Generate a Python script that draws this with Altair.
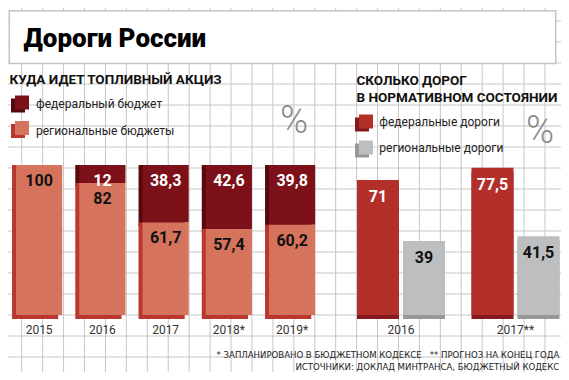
import altair as alt
import pandas as pd

# ---------------- data ----------------
title = "Дороги России"
left_title = "КУДА ИДЕТ ТОПЛИВНЫЙ АКЦИЗ"
right_title = ["СКОЛЬКО ДОРОГ", "В НОРМАТИВНОМ СОСТОЯНИИ"]

years_left = ["2015", "2016", "2017", "2018*", "2019*"]
federal_budget = [0, 12, 38.3, 42.6, 39.8]
regional_budget = [100, 82, 61.7, 57.4, 60.2]
left_series = ["федеральный бюджет", "региональные бюджеты"]

years_right = ["2016", "2017**"]
federal_roads = [71, 77.5]
regional_roads = [39, 41.5]
right_series = ["федеральные дороги", "региональные дороги"]

footnotes = [
    "* ЗАПЛАНИРОВАНО В БЮДЖЕТНОМ КОДЕКСЕ\u00a0\u00a0\u00a0** ПРОГНОЗ НА КОНЕЦ ГОДА",
    "ИСТОЧНИКИ: ДОКЛАД МИНТРАНСА, БЮДЖЕТНЫЙ КОДЕКС",
]

grid_cols = list(range(1, 27))
grid_rows = list(range(-2, 15))

# ---------------- styles ----------------
FED_L, FED_L_SIDE = "#7d1119", "#560a0f"
REG_L, REG_L_SIDE = "#d6735d", "#b9372e"
FED_R, FED_R_SIDE = "#b3302a", "#841a1d"
REG_R, REG_R_SIDE = "#bdbec0", "#97989a"
GRID = "#c6c6c6"
FONT = "Roboto"
NARROW = "Liberation Sans Narrow, DejaVu Sans Condensed, Roboto"


def fmt(v):
    return f"{v:g}".replace(".", ",")


# ---------------- tables ----------------
lrows = []
for y, f, r in zip(years_left, federal_budget, regional_budget):
    if f > 0:
        lrows.append(dict(year=y, series=left_series[0], value=f, lo=100 - f, hi=100, label=fmt(f)))
    lrows.append(dict(year=y, series=left_series[1], value=r, lo=0, hi=100 - f, label=fmt(r)))
ldf = pd.DataFrame(lrows)

rrows = []
for y, f, r in zip(years_right, federal_roads, regional_roads):
    rrows.append(dict(year=y, series=right_series[0], value=f, label=fmt(f)))
    rrows.append(dict(year=y, series=right_series[1], value=r, label=fmt(r)))
rdf = pd.DataFrame(rrows)

# ---------------- scales ----------------
XL = alt.Scale(domain=years_left, range=[-0.5, 315.75], paddingInner=0.27, paddingOuter=0.135)
YL = alt.Scale(domain=[0, 100], range=[307, 157])
XR = alt.Scale(domain=years_right, range=[335.75, 564.75], paddingInner=0.2314, paddingOuter=0.1157)
XOR = alt.Scale(domain=right_series, paddingInner=0.087, paddingOuter=0)
XOR_TXT = alt.Scale(type="point", domain=right_series, padding=0.4565)
YR = alt.Scale(domain=[0, 100], range=[307, 117])

# ---------------- background grid ----------------
vgrid = alt.Chart(pd.DataFrame({"k": grid_cols})).mark_rule(color=GRID, strokeWidth=1).encode(
    x=alt.X("k:Q", scale=alt.Scale(domain=[0, 1], range=[-7.2, 13.73]), axis=None)
)
hgrid = alt.Chart(pd.DataFrame({"k": grid_rows})).mark_rule(color=GRID, strokeWidth=1).encode(
    y=alt.Y("k:Q", scale=alt.Scale(domain=[0, 1], range=[307, 286]), axis=None)
)

one = pd.DataFrame({"t": [title]})
box = alt.Chart(one).mark_rect(fill="white", stroke="#c4c4c4", strokeWidth=1.5).encode(
    x=alt.value(1.3), x2=alt.value(547.7), y=alt.value(2.7), y2=alt.value(55.5)
)
head = alt.Chart(one).mark_text(
    font=FONT, fontSize=26, fontWeight=900, align="left", baseline="alphabetic", color="#000"
).encode(x=alt.value(15.5), y=alt.value(39), text="t:N")

lt = alt.Chart(pd.DataFrame({"t": [left_title]})).mark_text(
    font=FONT, fontSize=13.5, fontWeight="bold", align="left", baseline="alphabetic", color="#111"
).encode(x=alt.value(1.5), y=alt.value(76), text="t:N")
rt = alt.Chart(pd.DataFrame({"t": right_title, "i": [0, 1]})).mark_text(
    font=FONT, fontSize=13.5, fontWeight="bold", align="left", baseline="alphabetic", color="#111"
).encode(
    x=alt.value(348.5),
    y=alt.Y("i:O", scale=alt.Scale(domain=[0, 1], range=[77, 93.7], padding=0), axis=None),
    text="t:N",
)

pct = alt.Chart(pd.DataFrame({"t": ["%", "%"], "i": [0, 1]})).mark_text(
    font=FONT, fontSize=38, fontWeight=300, align="center", baseline="middle", color="#8a8a8a"
).encode(
    x=alt.X("i:O", scale=alt.Scale(domain=[0, 1], range=[286, 532], padding=0), axis=None),
    y=alt.Y("i:O", scale=alt.Scale(domain=[0, 1], range=[113.5, 123.7], padding=0), axis=None),
    text="t:N",
)

# ---------------- legends ----------------
lleg = pd.DataFrame({"series": left_series})
LGY = alt.Scale(domain=left_series, range=[94.5, 120], padding=0)
lleg_side = alt.Chart(lleg).mark_square(size=196, opacity=1, xOffset=-4, yOffset=3).encode(
    x=alt.value(14), y=alt.Y("series:N", scale=LGY, axis=None),
    color=alt.Color("series:N", scale=alt.Scale(domain=left_series, range=[FED_L_SIDE, REG_L_SIDE]), legend=None),
)
lleg_front = alt.Chart(lleg).mark_square(size=196, opacity=1).encode(
    x=alt.value(14), y=alt.Y("series:N", scale=LGY, axis=None),
    color=alt.Color("series:N", scale=alt.Scale(domain=left_series, range=[FED_L, REG_L]), legend=None),
)
lleg_text = alt.Chart(lleg).mark_text(
    font=FONT, fontSize=12, align="left", baseline="middle", color="#222"
).encode(
    x=alt.value(28),
    y=alt.Y("series:N", scale=alt.Scale(domain=left_series, range=[96.3, 123], padding=0), axis=None),
    text="series:N",
)

rleg = pd.DataFrame({"series": right_series})
RGY = alt.Scale(domain=right_series, range=[113.5, 139.5], padding=0)
rleg_side = alt.Chart(rleg).mark_square(size=196, opacity=1, xOffset=-4, yOffset=3).encode(
    x=alt.value(358), y=alt.Y("series:N", scale=RGY, axis=None),
    color=alt.Color("series:N", scale=alt.Scale(domain=right_series, range=[FED_R_SIDE, REG_R_SIDE]), legend=None),
)
rleg_front = alt.Chart(rleg).mark_square(size=196, opacity=1).encode(
    x=alt.value(358), y=alt.Y("series:N", scale=RGY, axis=None),
    color=alt.Color("series:N", scale=alt.Scale(domain=right_series, range=[FED_R, REG_R]), legend=None),
)
rleg_text = alt.Chart(rleg).mark_text(
    font=FONT, fontSize=12, align="left", baseline="middle", color="#222"
).encode(
    x=alt.value(371.3),
    y=alt.Y("series:N", scale=alt.Scale(domain=right_series, range=[113.7, 140.3], padding=0), axis=None),
    text="series:N",
)

# ---------------- left bars ----------------
l_side = alt.Chart(ldf).mark_bar(xOffset=-4, yOffset=4).encode(
    x=alt.X("year:N", scale=XL, axis=None),
    y=alt.Y("lo:Q", scale=YL, axis=None), y2="hi:Q",
    color=alt.Color("series:N", scale=alt.Scale(domain=left_series, range=[FED_L_SIDE, REG_L_SIDE]), legend=None),
)
l_front = alt.Chart(ldf).mark_bar().encode(
    x=alt.X("year:N", scale=XL, axis=None),
    y=alt.Y("lo:Q", scale=YL, axis=None), y2="hi:Q",
    color=alt.Color("series:N", scale=alt.Scale(domain=left_series, range=[FED_L, REG_L]), legend=None),
)
l_text = alt.Chart(ldf).mark_text(
    font=FONT, fontSize=16, fontWeight="bold", baseline="middle", yOffset=16
).encode(
    x=alt.X("year:N", scale=XL, axis=None),
    y=alt.Y("hi:Q", scale=YL, axis=None),
    text="label:N",
    color=alt.Color("series:N", scale=alt.Scale(domain=left_series, range=["#ffffff", "#111111"]), legend=None),
)
l_years = alt.Chart(pd.DataFrame({"year": years_left})).mark_text(
    font=FONT, fontSize=12, baseline="middle", color="#333"
).encode(x=alt.X("year:N", scale=XL, axis=None), y=alt.value(322), text="year:N")

# ---------------- right bars ----------------
r_side = alt.Chart(rdf).mark_bar(xOffset=-4, yOffset=4).encode(
    x=alt.X("year:N", scale=XR, axis=None),
    xOffset=alt.XOffset("series:N", scale=XOR),
    y=alt.Y("value:Q", scale=YR, axis=None),
    color=alt.Color("series:N", scale=alt.Scale(domain=right_series, range=[FED_R_SIDE, REG_R_SIDE]), legend=None),
)
r_front = alt.Chart(rdf).mark_bar().encode(
    x=alt.X("year:N", scale=XR, axis=None),
    xOffset=alt.XOffset("series:N", scale=XOR),
    y=alt.Y("value:Q", scale=YR, axis=None),
    color=alt.Color("series:N", scale=alt.Scale(domain=right_series, range=[FED_R, REG_R]), legend=None),
)
r_text = alt.Chart(rdf).mark_text(
    font=FONT, fontSize=16, fontWeight="bold", baseline="middle", yOffset=17
).encode(
    x=alt.X("year:N", scale=XR, axis=None),
    xOffset=alt.XOffset("series:N", scale=XOR_TXT),
    y=alt.Y("value:Q", scale=YR, axis=None),
    text="label:N",
    color=alt.Color("series:N", scale=alt.Scale(domain=right_series, range=["#ffffff", "#111111"]), legend=None),
)
r_years = alt.Chart(pd.DataFrame({"year": years_right})).mark_text(
    font=FONT, fontSize=12, baseline="middle", color="#333"
).encode(x=alt.X("year:N", scale=XR, axis=None), y=alt.value(322), text="year:N")

# ---------------- footnotes ----------------
foot = alt.Chart(pd.DataFrame({"t": footnotes, "i": [0, 1]})).mark_text(
    font=NARROW, fontSize=9.5, align="right", baseline="middle", color="#222"
).encode(
    x=alt.value(551.3),
    y=alt.Y("i:O", scale=alt.Scale(domain=[0, 1], range=[347, 358.7], padding=0), axis=None),
    text="t:N",
)

chart = alt.layer(
    vgrid, hgrid, box, head, lt, rt, pct,
    lleg_side, lleg_front, lleg_text, rleg_side, rleg_front, rleg_text,
    l_side, l_front, l_text, l_years,
    r_side, r_front, r_text, r_years,
    foot,
).resolve_scale(
    x="independent", y="independent", color="independent", xOffset="independent"
).properties(
    width=553, height=364, padding=0, autosize=alt.AutoSizeParams(type="none"), background="white"
).configure_view(stroke=None)

chart.save("out.html", embed_options={"renderer": "svg", "actions": False})
